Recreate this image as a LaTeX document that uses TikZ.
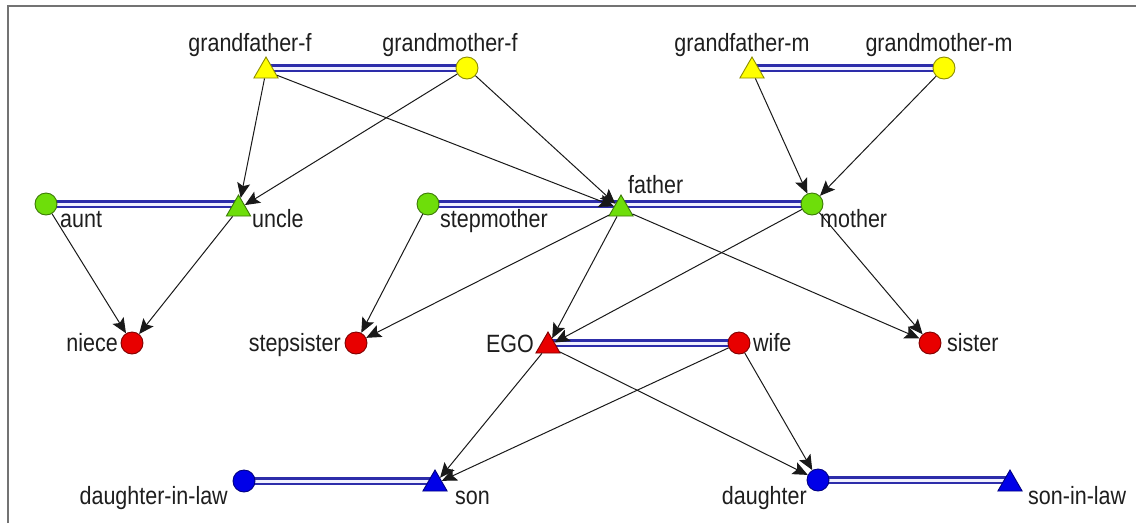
\documentclass[tikz,border=0pt]{standalone}
\usepackage{fontspec}
\usepackage{graphicx}
\setmainfont{Liberation Sans}
\usetikzlibrary{shapes.geometric,arrows.meta,backgrounds}
\definecolor{yel}{RGB}{255,255,0}
\definecolor{grn}{RGB}{110,222,10}
\definecolor{rd}{RGB}{232,0,0}
\definecolor{blu}{RGB}{0,0,232}
\definecolor{mblue}{RGB}{45,45,170}
\definecolor{txt}{RGB}{30,30,30}
\newcommand{\nw}[1]{\scalebox{0.86}[1]{#1}}
\tikzset{
  person/.style={draw=#1!55!black, fill=#1, line width=0.9pt, inner sep=0pt},
  fem/.style={person=#1, circle, minimum size=22pt},
  mal/.style={person=#1, regular polygon, regular polygon sides=3, minimum size=28pt},
  lab/.style={text=txt, font=\fontsize{25}{28}\selectfont, inner sep=0pt, anchor=base},
  labr/.style={lab, anchor=base west},
  labl/.style={lab, anchor=base east},
  marr/.style={draw=mblue, line width=2.2pt, double=blue!6, double distance=3pt},
  par/.style={draw=black!90, line width=1pt, -{Stealth[length=15pt,width=13pt,inset=3pt]}},
  frame/.style={draw=black!55, line width=2pt},
}
\begin{document}
\begin{tikzpicture}[x=1pt,y=-1pt]
\useasboundingbox (0,0) rectangle (1136,523);
% persons
\node[mal=yel] (gff) at (266,71) {};
\node[fem=yel] (gmf) at (467,68) {};
\node[mal=yel] (gfm) at (752,71) {};
\node[fem=yel] (gmm) at (944,68) {};
\node[fem=grn] (aunt) at (46,204) {};
\node[mal=grn] (uncle) at (238.5,209) {};
\node[fem=grn] (stepm) at (428,204) {};
\node[mal=grn] (father) at (621,209) {};
\node[fem=grn] (mother) at (812,204) {};
\node[fem=rd] (niece) at (132,343) {};
\node[fem=rd] (stepsis) at (356,343) {};
\node[mal=rd] (ego) at (548,346) {};
\node[fem=rd] (wife) at (739,343) {};
\node[fem=rd] (sister) at (930,343) {};
\node[fem=blu] (dil) at (244,481) {};
\node[mal=blu] (son) at (435,484) {};
\node[fem=blu] (daughter) at (818,480) {};
\node[mal=blu] (sil) at (1010,484) {};
% labels
\node[lab] (l-gff) at (250,51) {\nw{grandfather-f}};
\node[lab] (l-gmf) at (450,51) {\nw{grandmother-f}};
\node[lab] (l-gfm) at (742,51) {\nw{grandfather-m}};
\node[lab] (l-gmm) at (939,51) {\nw{grandmother-m}};
\node[labr] (l-aunt) at (60,227) {\nw{aunt}};
\node[labr] (l-uncle) at (252,227) {\nw{uncle}};
\node[labr] (l-stepm) at (440,227) {\nw{stepmother}};
\node[labr] (l-father) at (628,193) {\nw{father}};
\node[labr] (l-mother) at (820,227) {\nw{mother}};
\node[labl] (l-niece) at (118,351) {\nw{niece}};
\node[labl] (l-stepsis) at (341,351) {\nw{stepsister}};
\node[labl] (l-ego) at (534,352) {\nw{EGO}};
\node[labr] (l-wife) at (753,351) {\nw{wife}};
\node[labr] (l-sister) at (947,351) {\nw{sister}};
\node[labl] (l-dil) at (228,504) {\nw{daughter-in-law}};
\node[labr] (l-son) at (455,504) {\nw{son}};
\node[labl] (l-daughter) at (807,504) {\nw{daughter}};
\node[labr] (l-sil) at (1028,504) {\nw{son-in-law}};
% marriages
\begin{pgfonlayer}{background}
\draw[frame] (8,523) -- (8,6) -- (1136,6);
\draw[marr] ([yshift=3pt]gff.center) -- (gmf.center);
\draw[marr] ([yshift=3pt]gfm.center) -- (gmm.center);
\draw[marr] (aunt.center) -- ([yshift=5pt]uncle.center);
\draw[marr] (stepm.center) -- ([yshift=5pt]father.center);
\draw[marr] ([yshift=5pt]father.center) -- (mother.center);
\draw[marr] ([yshift=3pt]ego.center) -- (wife.center);
\draw[marr] (dil.center) -- ([yshift=3pt]son.center);
\draw[marr] (daughter.center) -- ([yshift=4pt]sil.center);
\end{pgfonlayer}
% descent
\draw[par] (gff) -- (uncle);
\draw[par] (gmf) -- (uncle);
\draw[par] (gff) -- (father);
\draw[par] (gmf) -- (father);
\draw[par] (gfm) -- (mother);
\draw[par] (gmm) -- (mother);
\draw[par] (aunt) -- (niece);
\draw[par] (uncle) -- (niece);
\draw[par] (stepm) -- (stepsis);
\draw[par] (father) -- (stepsis);
\draw[par] (father) -- (ego);
\draw[par] (mother) -- (ego);
\draw[par] (father) -- (sister);
\draw[par] (mother) -- (sister);
\draw[par] (ego) -- (son);
\draw[par] (wife) -- (son);
\draw[par] (ego) -- (daughter);
\draw[par] (wife) -- (daughter);
\end{tikzpicture}
\end{document}
